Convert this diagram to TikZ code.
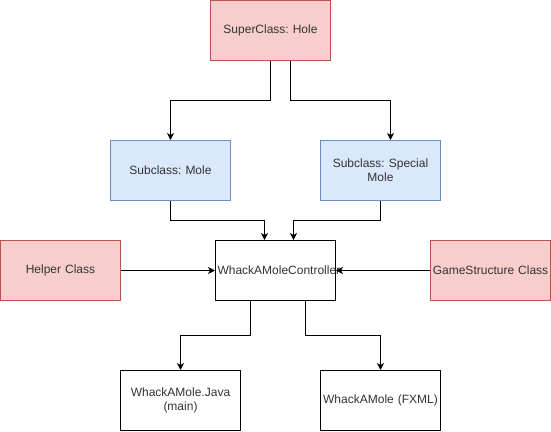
\documentclass[tikz,border=0pt]{standalone}
\usepackage{fontspec}
\setmainfont{Liberation Sans}
\frenchspacing
\usetikzlibrary{arrows.meta}
\definecolor{redfill}{HTML}{F8CECC}
\definecolor{redline}{HTML}{B85450}
\definecolor{bluefill}{HTML}{DAE8FC}
\definecolor{blueline}{HTML}{6C8EBF}
\definecolor{txt}{HTML}{333333}
\begin{document}
\begin{tikzpicture}[x=1pt,y=-1pt,
  box/.style={draw=black,fill=white,line width=1pt,minimum width=120pt,minimum height=60pt,
    inner sep=1pt,align=center,font=\fontsize{12}{14}\selectfont\frenchspacing,text=txt,text width=116pt},
  redbox/.style={box,draw=redline,fill=redfill},
  bluebox/.style={box,draw=blueline,fill=bluefill},
  conn/.style={line width=1pt,-{Stealth[length=7pt,width=7pt,inset=2pt]}}]
\useasboundingbox (-0.5,-0.5) rectangle (550.5,430.5);
\node[redbox] (hole) at (270,30) {SuperClass: Hole};
\node[bluebox] (mole) at (170,170) {Subclass: Mole};
\node[bluebox] (special) at (380,170) {Subclass: Special\\Mole};
\node[box] (ctrl) at (275,270) {WhackAMoleController};
\node[redbox] (helper) at (60,270) {Helper Class};
\node[redbox] (game) at (490,270) {GameStructure Class};
\node[box] (java) at (180,400) {WhackAMole.Java\\(main)};
\node[box] (fxml) at (380,400) {WhackAMole (FXML)};
\draw[conn] (hole.south -| 270,0) -- (270,100) -| (mole.north);
\draw[conn] (hole.south -| 290,0) -- (290,100) -| (special.north -| 390,0);
\draw[conn] (mole.south) -- (170,220) -| (ctrl.north -| 264,0);
\draw[conn] (special.south) -- (380,220) -| (ctrl.north -| 293,0);
\draw[conn] (helper.east) -- (ctrl.west);
\draw[conn] (game.west) -- (ctrl.east);
\draw[conn] (ctrl.south -| 250,0) -- (250,335) -| (java.north);
\draw[conn] (ctrl.south -| 305,0) -- (305,335) -| (fxml.north);
\end{tikzpicture}
\end{document}
